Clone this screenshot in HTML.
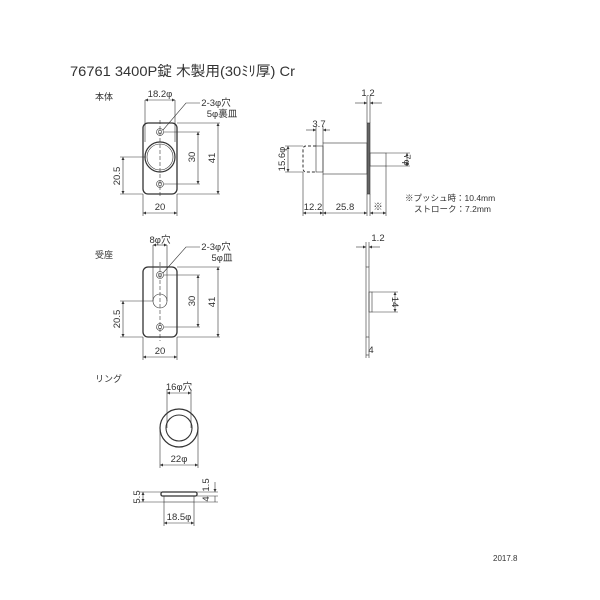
<!DOCTYPE html>
<html><head><meta charset="utf-8"><style>
html,body{margin:0;padding:0;background:#fff;width:600px;height:600px;overflow:hidden}
text{font-family:"Liberation Sans","Noto Sans CJK JP",sans-serif;fill:#333}
</style></head><body>
<svg width="600" height="600" viewBox="0 0 600 600" xmlns="http://www.w3.org/2000/svg">
<defs><marker id="a" viewBox="0 0 6 6" refX="6" refY="3" markerWidth="5" markerHeight="5" orient="auto-start-reverse"><path d="M0,0L6,3L0,6z" fill="#333"/></marker></defs>
<g font-size="9">
<text x="70" y="76" font-size="14" textLength="225" lengthAdjust="spacingAndGlyphs">76761 3400P錠 木製用(30ﾐﾘ厚) Cr</text>
<text x="95" y="100">本体</text>
<text x="95" y="258">受座</text>
<text x="95" y="382">リング</text>
<text x="493" y="561" font-size="8">2017.8</text>
</g>
<g stroke="#333" stroke-width="0.6" fill="none">
<rect x="143" y="123" width="34" height="71" rx="5" stroke-width="1.3"/>
<circle cx="160" cy="157" r="15" stroke-width="1.2"/><circle cx="160" cy="157" r="13"/>
<circle cx="160" cy="132" r="3.5"/><circle cx="160" cy="132" r="1.8"/>
<circle cx="160" cy="184" r="3.5"/><circle cx="160" cy="184" r="1.8"/>
<line x1="160" y1="120" x2="160" y2="198" stroke-dasharray="4 2"/>
<line x1="145" y1="100" x2="145" y2="142"/><line x1="175" y1="100" x2="175" y2="142"/>
<line x1="145" y1="100" x2="175" y2="100" marker-start="url(#a)" marker-end="url(#a)"/>
<polyline points="163,130 186,103 200,103"/>
<line x1="164" y1="132" x2="200" y2="132"/><line x1="164" y1="184" x2="200" y2="184"/>
<line x1="198" y1="132" x2="198" y2="184" marker-start="url(#a)" marker-end="url(#a)"/>
<line x1="177" y1="123" x2="220" y2="123"/><line x1="177" y1="194" x2="220" y2="194"/>
<line x1="218" y1="123" x2="218" y2="194" marker-start="url(#a)" marker-end="url(#a)"/>
<line x1="120" y1="157" x2="146" y2="157"/><line x1="120" y1="194" x2="143" y2="194"/>
<line x1="123" y1="157" x2="123" y2="194" marker-start="url(#a)" marker-end="url(#a)"/>
<line x1="143" y1="194" x2="143" y2="216"/><line x1="177" y1="194" x2="177" y2="216"/>
<line x1="143" y1="213" x2="177" y2="213" marker-start="url(#a)" marker-end="url(#a)"/>
<rect x="367" y="123" width="3" height="71" fill="#666"/>
<rect x="323" y="143" width="44" height="31"/>
<rect x="316" y="146" width="7" height="26"/>
<path d="M316,146 H306 Q303,146 303,150 V168 Q303,172 306,172 H316" stroke-dasharray="3 2" stroke-width="1"/>
<rect x="370" y="153" width="16" height="13"/>
<line x1="367" y1="96" x2="367" y2="123"/><line x1="370" y1="96" x2="370" y2="123"/>
<line x1="355" y1="103" x2="367" y2="103" marker-end="url(#a)"/><line x1="382" y1="103" x2="370" y2="103" marker-end="url(#a)"/>
<line x1="316" y1="126" x2="316" y2="146"/><line x1="323" y1="126" x2="323" y2="143"/>
<line x1="306" y1="130" x2="316" y2="130" marker-end="url(#a)"/><line x1="330" y1="130" x2="323" y2="130" marker-end="url(#a)"/>
<line x1="285" y1="146" x2="303" y2="146"/><line x1="285" y1="172" x2="303" y2="172"/>
<line x1="288" y1="146" x2="288" y2="172" marker-start="url(#a)" marker-end="url(#a)"/>
<line x1="386" y1="153" x2="410" y2="153"/><line x1="386" y1="166" x2="410" y2="166"/>
<line x1="407" y1="153" x2="407" y2="166" marker-start="url(#a)" marker-end="url(#a)"/>
<line x1="303" y1="172" x2="303" y2="216"/><line x1="323" y1="174" x2="323" y2="216"/><line x1="367" y1="194" x2="367" y2="216"/><line x1="370" y1="194" x2="370" y2="216"/><line x1="386" y1="166" x2="386" y2="216"/>
<line x1="303" y1="213" x2="323" y2="213" marker-start="url(#a)" marker-end="url(#a)"/>
<line x1="323" y1="213" x2="367" y2="213" marker-start="url(#a)" marker-end="url(#a)"/>
<line x1="370" y1="213" x2="386" y2="213" marker-start="url(#a)" marker-end="url(#a)"/>
<rect x="143" y="267" width="34" height="70" rx="5" stroke-width="1.3"/>
<circle cx="160" cy="301" r="7"/>
<circle cx="160" cy="275" r="3.5"/><circle cx="160" cy="275" r="1.8"/>
<circle cx="160" cy="327" r="3.5"/><circle cx="160" cy="327" r="1.8"/>
<line x1="160" y1="262" x2="160" y2="341" stroke-dasharray="4 2"/>
<line x1="153" y1="245" x2="153" y2="301"/><line x1="167" y1="245" x2="167" y2="301"/>
<line x1="153" y1="245" x2="167" y2="245" marker-start="url(#a)" marker-end="url(#a)"/>
<polyline points="163,273 186,247 200,247"/>
<line x1="164" y1="275" x2="200" y2="275"/><line x1="164" y1="327" x2="200" y2="327"/>
<line x1="198" y1="275" x2="198" y2="327" marker-start="url(#a)" marker-end="url(#a)"/>
<line x1="177" y1="267" x2="220" y2="267"/><line x1="177" y1="337" x2="220" y2="337"/>
<line x1="218" y1="267" x2="218" y2="337" marker-start="url(#a)" marker-end="url(#a)"/>
<line x1="120" y1="301" x2="153" y2="301"/><line x1="120" y1="337" x2="143" y2="337"/>
<line x1="123" y1="301" x2="123" y2="337" marker-start="url(#a)" marker-end="url(#a)"/>
<line x1="143" y1="337" x2="143" y2="360"/><line x1="177" y1="337" x2="177" y2="360"/>
<line x1="143" y1="357" x2="177" y2="357" marker-start="url(#a)" marker-end="url(#a)"/>
<rect x="366" y="267" width="3" height="70"/>
<rect x="369" y="292" width="3" height="20"/>
<line x1="366" y1="242" x2="366" y2="267"/><line x1="369" y1="242" x2="369" y2="267"/>
<line x1="356" y1="247" x2="366" y2="247" marker-end="url(#a)"/><line x1="380" y1="247" x2="369" y2="247" marker-end="url(#a)"/>
<line x1="372" y1="292" x2="398" y2="292"/><line x1="372" y1="312" x2="398" y2="312"/>
<line x1="395" y1="292" x2="395" y2="312" marker-start="url(#a)" marker-end="url(#a)"/>
<line x1="366" y1="337" x2="366" y2="358"/><line x1="369" y1="337" x2="369" y2="358"/>
<line x1="366" y1="355" x2="369" y2="355"/>
<circle cx="179" cy="428" r="19" stroke-width="1.2"/><circle cx="179" cy="428" r="13" stroke-width="1.1"/>
<line x1="167" y1="390" x2="167" y2="428"/><line x1="191" y1="390" x2="191" y2="428"/>
<line x1="167" y1="393" x2="191" y2="393" marker-start="url(#a)" marker-end="url(#a)"/>
<line x1="160" y1="428" x2="160" y2="468"/><line x1="198" y1="428" x2="198" y2="468"/>
<line x1="160" y1="465" x2="198" y2="465" marker-start="url(#a)" marker-end="url(#a)"/>
<rect x="161" y="492" width="36" height="4" rx="1.5" stroke-width="1.3"/>
<rect x="164" y="496" width="30" height="6"/>
<line x1="140" y1="492" x2="161" y2="492"/><line x1="140" y1="502" x2="164" y2="502"/>
<line x1="143" y1="492" x2="143" y2="502" marker-start="url(#a)" marker-end="url(#a)"/>
<line x1="197" y1="492" x2="218" y2="492"/><line x1="197" y1="496" x2="218" y2="496"/><line x1="194" y1="502" x2="218" y2="502"/>
<line x1="215" y1="482" x2="215" y2="492" marker-end="url(#a)"/><line x1="215" y1="496" x2="215" y2="502"/>
<line x1="164" y1="502" x2="164" y2="526"/><line x1="194" y1="502" x2="194" y2="526"/>
<line x1="164" y1="523" x2="194" y2="523" marker-start="url(#a)" marker-end="url(#a)"/>
</g>
<g font-size="9.5" text-anchor="middle">
<text x="160" y="97">18.2φ</text>
<text x="216" y="106">2-3φ穴</text><text x="222" y="117">5φ裏皿</text>
<text transform="translate(195,157) rotate(-90)">30</text>
<text transform="translate(215,158) rotate(-90)">41</text>
<text transform="translate(120,176) rotate(-90)">20.5</text>
<text x="160" y="210">20</text>
<text x="368" y="96">1.2</text>
<text x="319" y="127">3.7</text>
<text transform="translate(285,159) rotate(-90)">15.6φ</text>
<text transform="translate(404,160) rotate(90)">7φ</text>
<text x="313" y="210">12.2</text><text x="345" y="210">25.8</text><text x="378" y="210">※</text>
<text x="405" y="201" text-anchor="start" font-size="8.5">※プッシュ時：10.4mm</text>
<text x="414" y="212" text-anchor="start" font-size="8.5">ストローク：7.2mm</text>
<text x="160" y="243">8φ穴</text>
<text x="216" y="250">2-3φ穴</text><text x="222" y="261">5φ皿</text>
<text transform="translate(195,301) rotate(-90)">30</text>
<text transform="translate(215,302) rotate(-90)">41</text>
<text transform="translate(120,319) rotate(-90)">20.5</text>
<text x="160" y="354">20</text>
<text x="378" y="241">1.2</text>
<text transform="translate(392,302) rotate(90)">14</text>
<text x="371" y="353">4</text>
<text x="179" y="390">16φ穴</text>
<text x="179" y="462">22φ</text>
<text transform="translate(140,497) rotate(-90)">5.5</text>
<text transform="translate(209,485) rotate(-90)">1.5</text>
<text transform="translate(209,499) rotate(-90)">4</text>
<text x="179" y="520">18.5φ</text>
</g>
</svg>
</body></html>
